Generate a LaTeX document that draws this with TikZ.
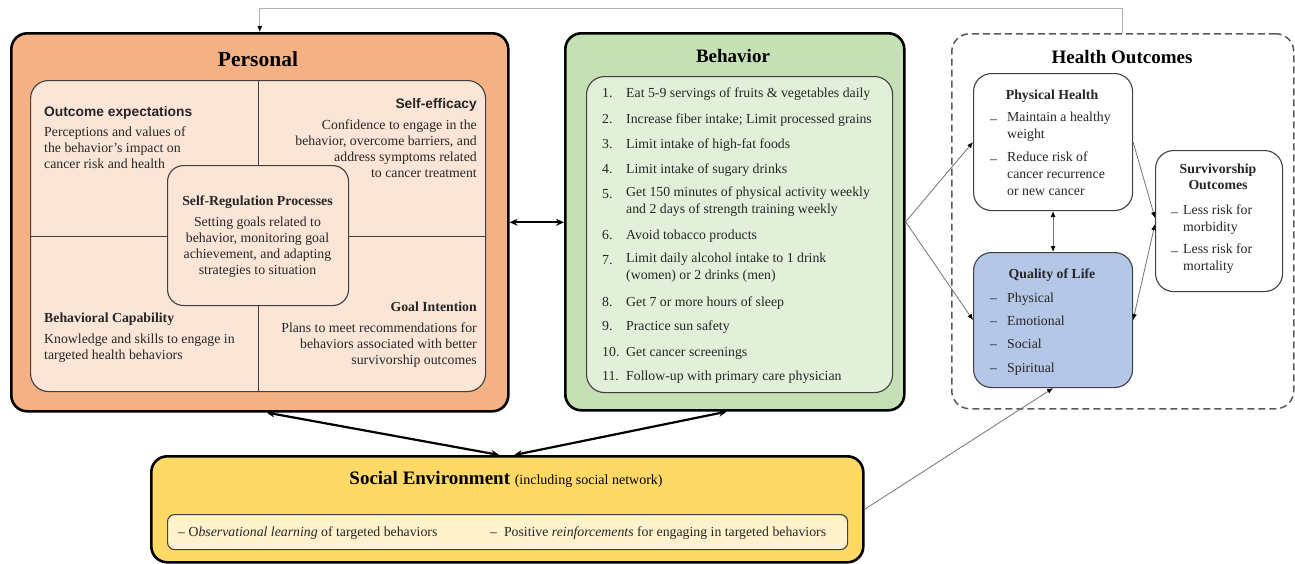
\documentclass[tikz,border=0pt]{standalone}
\usepackage{fontspec}
\setmainfont{Liberation Serif}
\setsansfont{Liberation Sans}
\usetikzlibrary{arrows.meta,calc,positioning}
\definecolor{persdark}{HTML}{F4B183}
\definecolor{perslight}{HTML}{FBE5D6}
\definecolor{behdark}{HTML}{C5E0B4}
\definecolor{behlight}{HTML}{E2F0D9}
\definecolor{qolblue}{HTML}{B4C7E7}
\definecolor{socdark}{HTML}{FFD966}
\definecolor{soclight}{HTML}{FFF2CC}
\definecolor{inkgray}{HTML}{262626}

\begin{document}
\begin{tikzpicture}[x=1pt,y=-1pt,
  bigframe/.style={draw=black, line width=2.6pt, rounded corners=16pt, anchor=north west, inner sep=0pt},
  panel/.style={draw=black!75, line width=1.1pt, rounded corners=18pt, anchor=north west, inner sep=0pt},
  txt/.style={font=\fontsize{13.8}{16}\selectfont, text=inkgray, inner sep=0pt, yshift=-2pt, execute at begin node=\strut},
  head/.style={txt, font=\fontsize{13.8}{16}\selectfont\bfseries},
  shead/.style={txt, font=\fontsize{13.8}{16}\selectfont\sffamily\bfseries},
  boxtitle/.style={font=\fontsize{19}{22}\selectfont\bfseries, text=black, inner sep=0pt, yshift=-1pt},
  bigarrow/.style={{Stealth[length=8pt,width=7pt]}-{Stealth[length=8pt,width=7pt]}, line width=2.2pt},
  thinarrow/.style={-{Latex[length=6pt,width=5pt,color=black]}, draw=black!55, line width=0.8pt},
  thindouble/.style={{Latex[length=6pt,width=5pt,color=black]}-{Latex[length=6pt,width=5pt,color=black]}, draw=black!55, line width=0.8pt}]
  \useasboundingbox (0,0) rectangle (1295,563);

  \node[bigframe, fill=persdark, minimum width=497pt, minimum height=378pt] (personal) at (10,32) {};
  \node[panel, fill=perslight, minimum width=455pt, minimum height=311pt] (pquad) at (30,80) {};
  \draw[black!75, line width=1.1pt] (pquad.north) -- (pquad.south) (pquad.west) -- (pquad.east);
  \node[panel, fill=perslight, rounded corners=16pt, minimum width=181pt, minimum height=140pt] (selfreg) at (167,165) {};

  \node[boxtitle, font=\fontsize{21.5}{24}\selectfont\bfseries] (perstitle) at (258,58) {Personal};
  \node[shead, anchor=west] (oehead) at (44,111) {Outcome expectations};
  \node[txt, anchor=north west, align=left] (oetext) at (44,125) {Perceptions and values of\\the behavior's impact on\\cancer risk and health};
  \node[shead, anchor=east] (sehead) at (477,103) {Self-efficacy};
  \node[txt, anchor=north east, align=right] (setext) at (477,118) {Confidence to engage in the\\behavior, overcome barriers, and\\address symptoms related\\to cancer treatment};
  \node[head] (srhead) at (257.5,200) {Self-Regulation Processes};
  \node[txt, anchor=north, align=center] (srtext) at (257.5,215) {Setting goals related to\\behavior, monitoring goal\\achievement, and adapting\\strategies to situation};
  \node[head, anchor=west] (bchead) at (44,317) {Behavioral Capability};
  \node[txt, anchor=north west, align=left] (bctext) at (44,332) {Knowledge and skills to engage in\\targeted health behaviors};
  \node[head, anchor=east] (gihead) at (477,306) {Goal Intention};
  \node[txt, anchor=north east, align=right] (gitext) at (477,321) {Plans to meet recommendations for\\behaviors associated with better\\survivorship outcomes};

  \node[bigframe, fill=behdark, minimum width=339pt, minimum height=377pt] (behavior) at (564,32) {};
  \node[panel, fill=behlight, minimum width=306pt, minimum height=316pt] (blist) at (586,76) {};
  \node[boxtitle] (behtitle) at (733,55) {Behavior};
  \foreach \n/\y/\t in {
    1/92/{Eat 5-9 servings of fruits \& vegetables daily},
    2/118/{Increase fiber intake; Limit processed grains},
    3/143/{Limit intake of high-fat foods},
    4/168/{Limit intake of sugary drinks},
    5/193/{Get 150 minutes of physical activity weekly\\and 2 days of strength training weekly},
    6/234/{Avoid tobacco products},
    7/259/{Limit daily alcohol intake to 1 drink\\(women) or 2 drinks (men)},
    8/301/{Get 7 or more hours of sleep},
    9/325/{Practice sun safety},
    10/351/{Get cancer screenings},
    11/375/{Follow-up with primary care physician}}{
    \node[txt, anchor=west] (num\n) at (602,\y) {\n.};
    \node[txt, font=\fontsize{13.8}{16.6}\selectfont, anchor=north west, align=left] (item\n) at (626,\y-8.1) {\t};
  }

  \node[draw=black!65, line width=1.5pt, dash pattern=on 7pt off 4pt, rounded corners=18pt, anchor=north west, inner sep=0pt, minimum width=342pt, minimum height=375pt] (outcomes) at (951,33) {};
  \node[boxtitle] (outtitle) at (1122,56) {Health Outcomes};
  \node[panel, fill=white, minimum width=159pt, minimum height=137pt] (physical) at (973,73) {};
  \node[panel, fill=qolblue, minimum width=159pt, minimum height=135pt] (qol) at (973,252) {};
  \node[panel, fill=white, minimum width=127pt, minimum height=141pt] (surv) at (1155,150) {};

  \node[head] (phhead) at (1052,94) {Physical Health};
  \foreach \y/\t in {118/{Maintain a healthy\\weight}, 158/{Reduce risk of\\cancer recurrence\\or new cancer}}{
    \node[txt, anchor=west] (phdash\y) at (990,\y) {--};
    \node[txt, font=\fontsize{13.8}{16.6}\selectfont, anchor=north west, align=left] (phitem\y) at (1007,\y-8.1) {\t};
  }
  \node[head] (qolhead) at (1052,273) {Quality of Life};
  \foreach \y/\t in {297/Physical, 320/Emotional, 343/Social, 367/Spiritual}{
    \node[txt, anchor=west] (qoldash\y) at (990,\y) {--};
    \node[txt, anchor=west] (qolitem\y) at (1007,\y) {\t};
  }
  \node[head, anchor=north, align=center] (survhead) at (1218,162) {Survivorship\\Outcomes};
  \foreach \y/\t in {211/{Less risk for\\morbidity}, 250/{Less risk for\\mortality}}{
    \node[txt, anchor=west] (survdash\y) at (1171,\y) {--};
    \node[txt, font=\fontsize{13.8}{16.6}\selectfont, anchor=north west, align=left] (survitem\y) at (1183,\y-8.1) {\t};
  }

  \node[bigframe, fill=socdark, minimum width=712pt, minimum height=106pt] (social) at (150,455) {};
  \node[panel, fill=soclight, rounded corners=7pt, minimum width=680pt, minimum height=35pt] (socinner) at (167,514) {};
  \node[boxtitle] (soctitle) at (506,478) {Social Environment {\fontsize{14}{16}\selectfont\mdseries (including social network)}};
  \node[txt, anchor=west] (obslearn) at (178,531) {-- O\textit{bservational learning} of targeted behaviors};
  \node[txt, anchor=west] (posreinf) at (490,531) {--\enspace Positive \textit{reinforcements} for engaging in targeted behaviors};

  \draw[bigarrow] (personal.east) -- (personal.east -| behavior.west);
  \draw[bigarrow] ([xshift=7pt]personal.south) -- ([xshift=-8pt]social.north);
  \draw[bigarrow] ([xshift=-8pt]behavior.south) -- ([xshift=7pt]social.north);
  \draw[thinarrow] (behavior.east) -- (physical.west);
  \draw[thinarrow] (behavior.east) -- (qol.west);
  \draw[thindouble] (physical.south) -- (qol.north);
  \draw[thinarrow] (physical.east) -- ([yshift=3pt]surv.west);
  \draw[thindouble] ([yshift=-3pt]surv.west) -- (qol.east);
  \draw[thinarrow] (social.east) -- (qol.south);
  \draw[thinarrow, draw=black!30] (outcomes.north) -- ++(0,-25) -| (personal.north);
\end{tikzpicture}
\end{document}
